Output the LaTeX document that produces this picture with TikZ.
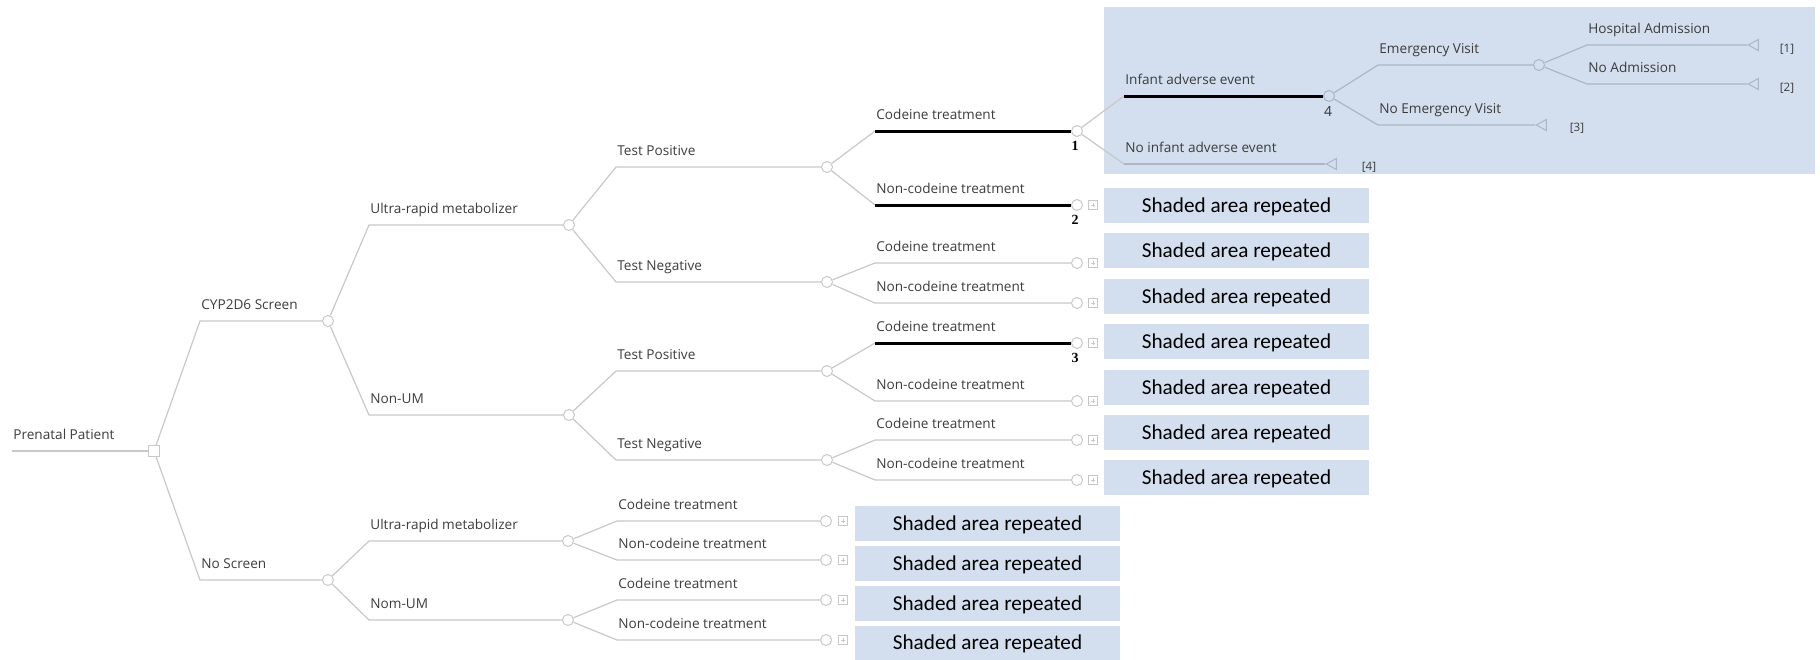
\documentclass[tikz,border=0pt]{standalone}
\usepackage{fontspec}
\setmainfont{Open Sans}
\newfontfamily\boxfont{Carlito}
\newfontfamily\numfont{Liberation Serif}
\usetikzlibrary{shapes.geometric}
\definecolor{lgrey}{RGB}{200,200,200}
\definecolor{bgrey}{RGB}{172,182,198}
\definecolor{paleblue}{RGB}{211,223,238}
\definecolor{ink}{RGB}{60,60,60}

\begin{document}
\begin{tikzpicture}[x=0.5pt,y=-0.5pt]
    \tikzset{%
      chance/.style={circle, draw=lgrey, line width=0.5pt, inner sep=0pt,
        minimum size=5.5pt},
      choice/.style={rectangle, draw=lgrey, line width=0.5pt, inner sep=0pt,
        minimum size=5.5pt},
      term/.style={isosceles triangle, shape border rotate=180,
        isosceles triangle stretches, draw=bgrey, line width=0.5pt,
        inner sep=0pt, minimum width=5.5pt, minimum height=5pt, anchor=apex},
      more/.style={rectangle, draw=lgrey, line width=0.4pt, inner sep=0pt,
        minimum size=4.2pt, path picture={
          \draw[lgrey, line width=0.3pt]
            ([xshift=-1.2pt]path picture bounding box.center) --
            ([xshift=1.2pt]path picture bounding box.center)
            ([yshift=-1.2pt]path picture bounding box.center) --
            ([yshift=1.2pt]path picture bounding box.center);}},
      lab/.style={anchor=base west, inner sep=0pt, xshift=0.5pt, yshift=6pt,
        text=ink, font=\fontsize{6.8}{8}\selectfont},
      num/.style={inner sep=0pt, font=\numfont\bfseries\fontsize{7}{8}\selectfont},
      tag/.style={inner sep=0pt, text=ink, font=\fontsize{5.8}{6}\selectfont},
      branch/.style={draw=lgrey, line width=0.6pt},
      inbranch/.style={draw=bgrey, line width=0.6pt},
      best/.style={draw=black, line width=1.5pt},
      shadebox/.style={fill=paleblue, inner sep=0pt, minimum width=132.5pt,
        minimum height=17.5pt, text height=6.8pt, text depth=0pt,
        font=\boxfont\fontsize{10.6}{12}\selectfont},
    }
    \useasboundingbox (0,0) rectangle (1820,659);
    \fill[paleblue] (1104,7) rectangle (1815,174);

    \coordinate (P0) at (12,451);
    \node[choice] (D) at (154,451) {};
    \node[lab] (tP) at (P0) {Prenatal Patient};
    \draw[branch] (P0) -- (D);

    \coordinate (S0) at (200,321);
    \node[chance] (S) at (328,321) {};
    \node[lab] (tS) at (S0) {CYP2D6 Screen};
    \draw[branch] (D) -- (S0) -- (S);

    \coordinate (N0) at (200,580);
    \node[chance] (N) at (328,580) {};
    \node[lab] (tN) at (N0) {No Screen};
    \draw[branch] (D) -- (N0) -- (N);

    \coordinate (SU0) at (369,225);
    \node[chance] (SU) at (569,225) {};
    \node[lab] (tSU) at (SU0) {Ultra-rapid metabolizer};
    \draw[branch] (S) -- (SU0) -- (SU);

    \coordinate (SN0) at (369,415);
    \node[chance] (SN) at (569,415) {};
    \node[lab] (tSN) at (SN0) {Non-UM};
    \draw[branch] (S) -- (SN0) -- (SN);

    \coordinate (NU0) at (369,541);
    \node[chance] (NU) at (568,541) {};
    \node[lab] (tNU) at (NU0) {Ultra-rapid metabolizer};
    \draw[branch] (N) -- (NU0) -- (NU);

    \coordinate (NN0) at (369,620);
    \node[chance] (NN) at (568,620) {};
    \node[lab] (tNN) at (NN0) {Nom-UM};
    \draw[branch] (N) -- (NN0) -- (NN);

    \coordinate (SUP0) at (616,167);
    \node[chance] (SUP) at (827,167) {};
    \node[lab] (tSUP) at (SUP0) {Test Positive};
    \draw[branch] (SU) -- (SUP0) -- (SUP);

    \coordinate (SUN0) at (616,282);
    \node[chance] (SUN) at (827,282) {};
    \node[lab] (tSUN) at (SUN0) {Test Negative};
    \draw[branch] (SU) -- (SUN0) -- (SUN);

    \coordinate (SNP0) at (616,371);
    \node[chance] (SNP) at (827,371) {};
    \node[lab] (tSNP) at (SNP0) {Test Positive};
    \draw[branch] (SN) -- (SNP0) -- (SNP);

    \coordinate (SNN0) at (616,460);
    \node[chance] (SNN) at (827,460) {};
    \node[lab] (tSNN) at (SNN0) {Test Negative};
    \draw[branch] (SN) -- (SNN0) -- (SNN);

    \coordinate (NUC0) at (617,521);
    \node[chance] (NUC) at (826,521) {};
    \node[more] (mNUC) at (843,521) {};
    \node[lab] (tNUC) at (NUC0) {Codeine treatment};
    \draw[branch] (NU) -- (NUC0) -- (NUC);

    \coordinate (NUX0) at (617,560);
    \node[chance] (NUX) at (826,560) {};
    \node[more] (mNUX) at (843,560) {};
    \node[lab] (tNUX) at (NUX0) {Non-codeine treatment};
    \draw[branch] (NU) -- (NUX0) -- (NUX);

    \coordinate (NNC0) at (617,600);
    \node[chance] (NNC) at (826,600) {};
    \node[more] (mNNC) at (843,600) {};
    \node[lab] (tNNC) at (NNC0) {Codeine treatment};
    \draw[branch] (NN) -- (NNC0) -- (NNC);

    \coordinate (NNX0) at (617,640);
    \node[chance] (NNX) at (826,640) {};
    \node[more] (mNNX) at (843,640) {};
    \node[lab] (tNNX) at (NNX0) {Non-codeine treatment};
    \draw[branch] (NN) -- (NNX0) -- (NNX);

    \coordinate (SUPC0) at (875,131);
    \node[chance] (SUPC) at (1077,131) {};
    \node[lab] (tSUPC) at (SUPC0) {Codeine treatment};
    \node[num] (n1) at (1075,146) {1};
    \draw[branch] (SUP) -- (SUPC0);
    \draw[best] (SUPC0) -- (SUPC);

    \coordinate (SUPX0) at (875,205);
    \node[chance] (SUPX) at (1077,205) {};
    \node[more] (mSUPX) at (1093,205) {};
    \node[lab] (tSUPX) at (SUPX0) {Non-codeine treatment};
    \node[num] (n2) at (1075,220) {2};
    \draw[branch] (SUP) -- (SUPX0);
    \draw[best] (SUPX0) -- (SUPX);

    \coordinate (SUNC0) at (875,263);
    \node[chance] (SUNC) at (1077,263) {};
    \node[more] (mSUNC) at (1093,263) {};
    \node[lab] (tSUNC) at (SUNC0) {Codeine treatment};
    \draw[branch] (SUN) -- (SUNC0) -- (SUNC);

    \coordinate (SUNX0) at (875,303);
    \node[chance] (SUNX) at (1077,303) {};
    \node[more] (mSUNX) at (1093,303) {};
    \node[lab] (tSUNX) at (SUNX0) {Non-codeine treatment};
    \draw[branch] (SUN) -- (SUNX0) -- (SUNX);

    \coordinate (SNPC0) at (875,343);
    \node[chance] (SNPC) at (1077,343) {};
    \node[more] (mSNPC) at (1093,343) {};
    \node[lab] (tSNPC) at (SNPC0) {Codeine treatment};
    \node[num] (n3) at (1075,358) {3};
    \draw[branch] (SNP) -- (SNPC0);
    \draw[best] (SNPC0) -- (SNPC);

    \coordinate (SNPX0) at (875,401);
    \node[chance] (SNPX) at (1077,401) {};
    \node[more] (mSNPX) at (1093,401) {};
    \node[lab] (tSNPX) at (SNPX0) {Non-codeine treatment};
    \draw[branch] (SNP) -- (SNPX0) -- (SNPX);

    \coordinate (SNNC0) at (875,440);
    \node[chance] (SNNC) at (1077,440) {};
    \node[more] (mSNNC) at (1093,440) {};
    \node[lab] (tSNNC) at (SNNC0) {Codeine treatment};
    \draw[branch] (SNN) -- (SNNC0) -- (SNNC);

    \coordinate (SNNX0) at (875,480);
    \node[chance] (SNNX) at (1077,480) {};
    \node[more] (mSNNX) at (1093,480) {};
    \node[lab] (tSNNX) at (SNNX0) {Non-codeine treatment};
    \draw[branch] (SNN) -- (SNNX0) -- (SNNX);

    \coordinate (I0) at (1124,96);
    \node[chance, draw=bgrey] (I) at (1329,96) {};
    \node[lab] (tI) at (I0) {Infant adverse event};
    \node[tag, text=black!80, font=\fontsize{7}{8}\selectfont] (n4) at (1328,111) {4};
    \draw[branch] (SUPC) -- (I0);
    \draw[best] (I0) -- (I);

    \coordinate (J0) at (1124,164);
    \node[term] (J) at (1325,164) {};
    \node[lab] (tJ) at (J0) {No infant adverse event};
    \node[tag] (r4) at (1369,167) {[4]};
    \draw[branch] (SUPC) -- (J0);
    \draw[inbranch] (J0) -- (J.apex);

    \coordinate (E0) at (1378,65);
    \node[chance, draw=bgrey] (E) at (1539,65) {};
    \node[lab] (tE) at (E0) {Emergency Visit};
    \draw[inbranch] (I) -- (E0) -- (E);

    \coordinate (F0) at (1378,125);
    \node[term] (F) at (1535,125) {};
    \node[lab] (tF) at (F0) {No Emergency Visit};
    \node[tag] (r3) at (1577,128) {[3]};
    \draw[inbranch] (I) -- (F0) -- (F.apex);

    \coordinate (H0) at (1587,45);
    \node[term] (H) at (1747,45) {};
    \node[lab] (tH) at (H0) {Hospital Admission};
    \node[tag] (r1) at (1787,49) {[1]};
    \draw[inbranch] (E) -- (H0) -- (H.apex);

    \coordinate (G0) at (1587,84);
    \node[term] (G) at (1747,84) {};
    \node[lab] (tG) at (G0) {No Admission};
    \node[tag] (r2) at (1787,88) {[2]};
    \draw[inbranch] (E) -- (G0) -- (G.apex);

    \node[shadebox] (R1) at (1236.5,205.5) {Shaded area repeated};
    \node[shadebox] (R2) at (1236.5,250.5) {Shaded area repeated};
    \node[shadebox] (R3) at (1236.5,296.5) {Shaded area repeated};
    \node[shadebox] (R4) at (1236.5,341.5) {Shaded area repeated};
    \node[shadebox] (R5) at (1236.5,387.5) {Shaded area repeated};
    \node[shadebox] (R6) at (1236.5,432.5) {Shaded area repeated};
    \node[shadebox] (R7) at (1236.5,477.5) {Shaded area repeated};

    \node[shadebox] (B1) at (987.5,523.5) {Shaded area repeated};
    \node[shadebox] (B2) at (987.5,563.5) {Shaded area repeated};
    \node[shadebox] (B3) at (987.5,603.5) {Shaded area repeated};
    \node[shadebox] (B4) at (987.5,643) {Shaded area repeated};
  \end{tikzpicture}
\end{document}
